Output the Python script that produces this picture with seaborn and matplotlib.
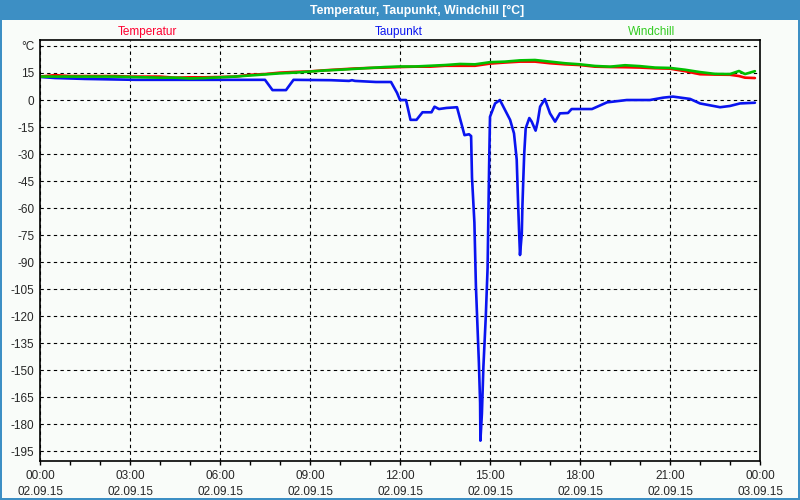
import matplotlib
matplotlib.use("Agg")
import matplotlib.pyplot as plt
from matplotlib.patches import Rectangle
import seaborn as sns
import pandas as pd

# ---- data ----
temp_hours = [0, 0.5, 1, 1.5, 2, 2.5, 3, 3.5, 4, 4.5, 5, 5.5, 6, 6.5, 7, 7.5, 8, 8.5, 9, 9.5,
              10, 10.5, 11, 11.5, 12, 12.5, 13, 13.5, 14, 14.5, 15, 15.5, 16, 16.5, 17, 17.5,
              18, 18.5, 19, 19.5, 20, 20.5, 21, 21.5, 22, 22.5, 23, 23.3, 23.5, 23.83]
temperatur = [13.0, 13.8, 13.3, 13.3, 13.3, 13.3, 13.0, 13.0, 13.0, 12.4, 12.6, 12.6, 12.8, 13.0,
              14.0, 14.4, 15.2, 15.6, 15.9, 16.5, 17.0, 17.5, 17.8, 18.0, 18.3, 18.5, 18.5, 19.0,
              19.0, 19.0, 20.2, 20.8, 21.3, 21.3, 20.4, 19.8, 19.4, 18.5, 18.3, 18.2, 18.0, 17.6,
              17.4, 16.0, 14.3, 14.1, 14.0, 13.3, 12.4, 12.2]
windchill = [13.0, 13.0, 13.0, 13.0, 13.0, 13.0, 12.8, 12.6, 12.4, 12.4, 12.0, 12.2, 12.6, 13.0,
             13.6, 14.2, 14.8, 15.2, 15.8, 16.4, 16.8, 17.3, 17.8, 18.3, 18.6, 18.6, 19.0, 19.4,
             20.0, 19.8, 21.0, 21.3, 22.0, 22.2, 21.3, 20.4, 19.8, 18.9, 18.5, 19.3, 18.8, 18.0,
             17.8, 16.8, 15.5, 14.5, 14.4, 16.1, 14.4, 16.0]

dew_hours = [0.0, 0.5, 1.5, 3.2, 7.5, 7.75, 8.2, 8.45, 9.7, 10.3, 10.4, 10.5, 11.2, 11.7, 11.9,
             12.0, 12.2, 12.35, 12.55, 12.75, 13.05, 13.15, 13.3, 13.55, 13.9, 14.15, 14.3, 14.37,
             14.4, 14.48, 14.53, 14.63, 14.67, 14.68, 14.73, 14.78, 14.86, 14.92, 14.97, 15.0,
             15.17, 15.33, 15.67, 15.8, 15.89, 15.94, 15.97, 16.0, 16.06, 16.08, 16.11, 16.14,
             16.19, 16.31, 16.39, 16.52, 16.59, 16.67, 16.83, 17.0, 17.17, 17.33, 17.6, 17.72,
             18.4, 18.9, 19.56, 20.33, 20.77, 21.1, 21.67, 22.0, 22.67, 23.0, 23.33, 23.83]
taupunkt = [12.8, 12.2, 11.7, 11.2, 11.2, 5.5, 5.5, 11.2, 11.0, 10.6, 11.0, 10.6, 10.0, 10.0, 4.0,
            0.0, 0.0, -11.0, -11.0, -6.8, -6.8, -3.7, -5.0, -4.4, -4.0, -19.5, -19.0, -20.0,
            -43.0, -68.0, -103.0, -146.0, -168.0, -189.0, -174.0, -148.0, -120.0, -93.0, -37.0, -9.3,
            -1.9, 0.0, -11.0, -18.5, -33.0, -59.0, -73.0, -86.0, -74.0, -59.0, -44.0, -30.0,
            -15.7, -10.0, -12.0, -17.0, -12.0, -3.7, 0.5, -7.4, -12.0, -7.4, -7.2, -5.0,
            -5.0, -1.3, 0.0, 0.0, 1.3, 1.9, 0.6, -1.9, -4.0, -3.3, -1.9, -1.5]

x_ticks = [0, 3, 6, 9, 12, 15, 18, 21, 24]
x_labels = ["00:00\n02.09.15", "03:00\n02.09.15", "06:00\n02.09.15", "09:00\n02.09.15",
            "12:00\n02.09.15", "15:00\n02.09.15", "18:00\n02.09.15", "21:00\n02.09.15",
            "00:00\n03.09.15"]
y_ticks = list(range(-195, 31, 15))
y_labels = [("°C" if v == 30 else str(v)) for v in y_ticks]

title = "Temperatur, Taupunkt, Windchill [°C]"
series_names = ["Temperatur", "Taupunkt", "Windchill"]

# ---- style ----
sns.set_style("white")
plt.rcParams["font.family"] = ["Liberation Sans", "DejaVu Sans"]

bg = "#f9fcf9"
frame_blue = "#3d8fc4"
c_temp = "#ff0000"
c_dew = "#0a14f0"
c_wind = "#00c000"

fig = plt.figure(figsize=(8, 5), dpi=100)
fig.patch.set_facecolor(bg)

W, H = 800.0, 500.0
ax = fig.add_axes([40 / W, (H - 460.5) / H, 720 / W, 420.5 / H])
ax.set_facecolor(bg)

df_t = pd.DataFrame({"h": temp_hours, "Temperatur": temperatur, "Windchill": windchill})
df_d = pd.DataFrame({"h": dew_hours, "Taupunkt": taupunkt})

lw = 1.9
sns.lineplot(data=df_d, x="h", y="Taupunkt", ax=ax, color=c_dew, lw=lw, estimator=None, sort=False)
sns.lineplot(data=df_t, x="h", y="Temperatur", ax=ax, color=c_temp, lw=lw, estimator=None, sort=False)
sns.lineplot(data=df_t, x="h", y="Windchill", ax=ax, color=c_wind, lw=lw, estimator=None, sort=False)

ax.set_xlim(0, 24)
ax.set_ylim(-200, 33.3)
ax.set_xlabel("")
ax.set_ylabel("")

ax.set_xticks(x_ticks)
ax.set_xticklabels(x_labels, fontsize=8.5, linespacing=1.4)
ax.set_xticks(range(0, 25), minor=True)
ax.tick_params(axis="x", which="both", direction="out", length=3, width=1, color="black",
               bottom=True, pad=4)
ax.set_yticks(y_ticks)
ax.set_yticklabels(y_labels, fontsize=8.5)
ax.tick_params(axis="y", which="both", length=0, pad=4, left=True)

for s in ax.spines.values():
    s.set_visible(True)
    s.set_color("black")
    s.set_linewidth(1.2)

ax.grid(True, which="major", color="black", linestyle=(0, (3, 3)), linewidth=0.8)
ax.set_axisbelow(True)

# title bar and frame
fig.add_artist(Rectangle((0, 1 - 20 / H), 1, 20 / H, transform=fig.transFigure,
                         facecolor=frame_blue, edgecolor="none", zorder=0))
fig.add_artist(Rectangle((0, 0), 2 / W, 1, transform=fig.transFigure,
                         facecolor=frame_blue, edgecolor="none"))
fig.add_artist(Rectangle((1 - 2 / W, 0), 2 / W, 1, transform=fig.transFigure,
                         facecolor=frame_blue, edgecolor="none"))
fig.add_artist(Rectangle((0, 0), 1, 2 / H, transform=fig.transFigure,
                         facecolor=frame_blue, edgecolor="none"))
fig.text(417 / W, 1 - 10.5 / H, title, color="white", fontsize=8.8, fontweight="bold",
         ha="center", va="center")

# series labels
label_pos = [147, 399, 652]
label_cols = ["#ff0030", c_dew, "#33cc22"]
for name, xp, col in zip(series_names, label_pos, label_cols):
    fig.text(xp / W, 1 - 32 / H, name, color=col, fontsize=8.5, ha="center", va="center")

fig.savefig("out.png", dpi=100, facecolor=fig.get_facecolor())
